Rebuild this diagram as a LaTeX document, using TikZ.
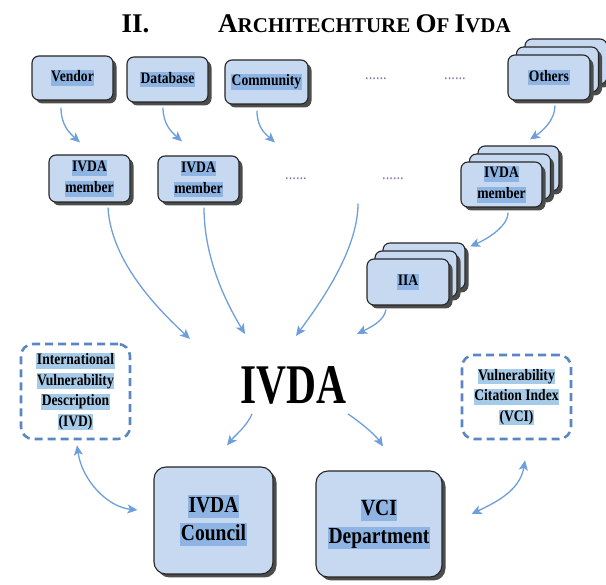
\documentclass[tikz,border=0pt]{standalone}
\usepackage{fontspec}
\usepackage{graphicx}
\setmainfont{Liberation Serif}
\usetikzlibrary{calc,shadows,arrows.meta}

\definecolor{boxfill}{HTML}{C6D9F1}
\definecolor{hlc}{HTML}{8EB4E3}
\definecolor{hld}{HTML}{A6CBE8}
\definecolor{arrowc}{HTML}{6E9EDC}
\definecolor{dashc}{HTML}{5B86C4}
\definecolor{dotc}{HTML}{8A6FA0}

% highlighted, slightly condensed text lines
\newcommand\hlstrut{\rule[-0.22em]{0pt}{0.92em}}
\newcommand\hl[1]{{\setlength\fboxsep{0.5pt}\colorbox{hlc}{\hlstrut\scalebox{0.85}[1]{#1}}}}
\newcommand\hlb[1]{{\setlength\fboxsep{0.5pt}\colorbox{hld}{\hlstrut\scalebox{0.85}[1]{#1}}}}

\tikzset{
  blockbox/.style={draw=black!85, line width=1.1pt, fill=boxfill, rounded corners=7pt,
    drop shadow={shadow xshift=3.5pt, shadow yshift=-3.5pt, fill=black!70, opacity=1},
    inner sep=0pt, align=center, font=\bfseries\fontsize{16}{21}\selectfont},
  smallbox/.style={blockbox, minimum width=81pt, minimum height=45pt},
  bigbox/.style={blockbox, rounded corners=12pt, font=\bfseries\fontsize{23}{28}\selectfont},
  dashbox/.style={draw=dashc, line width=2.6pt, dash pattern=on 8pt off 5pt, rounded corners=12pt,
    inner sep=0pt, align=center, font=\bfseries\fontsize{16}{20.5}\selectfont},
  dotsnode/.style={anchor=base, inner sep=0pt, text=dotc, font=\fontsize{17}{20}\selectfont},
  link/.style={draw=arrowc, line width=1.3pt, -{Stealth[length=10pt,width=9pt,inset=2.5pt]}},
  link2/.style={draw=arrowc, line width=1.3pt,
    {Stealth[length=10pt,width=9pt,inset=2.5pt]}-{Stealth[length=10pt,width=9pt,inset=2.5pt]}},
}

\begin{document}
\begin{tikzpicture}[x=1pt, y=-1pt]
\useasboundingbox (0,0) rectangle (606,585);

% heading
\node[anchor=base, inner sep=0pt] (secnum) at (135.5,33)
  {\bfseries\fontsize{27}{30}\selectfont II.};
\node[anchor=base west, inner sep=0pt] (title) at (218,33)
  {\bfseries\fontsize{27}{30}\selectfont A\fontsize{21}{30}\selectfont RCHITECHTURE
   \fontsize{27}{30}\selectfont O\fontsize{21}{30}\selectfont F
   \fontsize{27}{30}\selectfont I\fontsize{21}{30}\selectfont VDA};

% sources
\node[smallbox, minimum height=44pt] (vendor) at (72.5,78) {\hl{Vendor}};
\node[smallbox] (database) at (167.5,79.5) {\hl{Database}};
\node[smallbox, minimum width=83pt, minimum height=44pt] (community) at (266.5,82) {\hl{Community}};
\node[smallbox, minimum width=82pt] (others3) at (566,61.5) {};
\node[smallbox, minimum width=82pt] (others2) at (557.5,69.5) {};
\node[smallbox, minimum width=82pt] (others) at (549,77.5) {\hl{Others}};

\node[dotsnode] (dotsA) at (376,79.5) {\scalebox{0.85}[1]{......}};
\node[dotsnode] (dotsB) at (455,79.5) {\scalebox{0.85}[1]{......}};

% members
\node[smallbox, minimum height=47pt] (mem1) at (89.5,178.5) {\hl{IVDA}\\\hl{member}};
\node[smallbox, minimum height=46pt] (mem2) at (198.5,179) {\hl{IVDA}\\\hl{member}};
\node[dotsnode] (dots1) at (296,179.5) {\scalebox{0.85}[1]{......}};
\node[dotsnode] (dots2) at (393,179.5) {\scalebox{0.85}[1]{......}};
\node[smallbox] (mem3) at (518.5,168.5) {};
\node[smallbox] (mem2b) at (510,176.5) {};
\node[smallbox] (memN) at (501.5,184.5) {\hl{IVDA}\\\hl{member}};

% IIA stack
\node[smallbox, minimum width=82pt, minimum height=46pt] (iia3) at (424,266) {};
\node[smallbox, minimum width=82pt, minimum height=46pt] (iia2) at (416,274) {};
\node[smallbox, minimum width=82pt, minimum height=46pt] (iia) at (408,282) {\hl{IIA}};

% centre
\node[inner sep=0pt] (ivda) at (293,385)
  {\scalebox{0.74}[1]{\bfseries\fontsize{56}{60}\selectfont IVDA}};

\node[dashbox, minimum width=109pt, minimum height=95pt] (ivd) at (75.5,391.5)
  {\hlb{International}\\\hlb{Vulnerability}\\\hlb{Description}\\\hlb{(IVD)}};
\node[dashbox, minimum width=109pt, minimum height=84pt] (vci) at (516.5,397)
  {\hlb{Vulnerability}\\\hlb{Citation Index}\\\hlb{(VCI)}};

\node[bigbox, minimum width=119pt, minimum height=107pt] (council) at (213.5,520.5)
  {\hl{IVDA}\\\hl{Council}};
\node[bigbox, minimum width=126pt, minimum height=106pt] (vcidept) at (379,524)
  {\hl{VCI}\\\hl{Department}};

% connectors
\draw[link] ($(vendor.south)+(-11.5,7)$) .. controls +(0,18) and +(-10,-9) .. ($(mem1.north)+(-9.5,-12)$);
\draw[link] ($(database.south)+(-4.5,5)$) .. controls +(0,17) and +(-10,-9) .. ($(mem2.north)+(-16.5,-14)$);
\draw[link] ($(community.south)+(-9.5,6)$) .. controls +(0,17) and +(-10,-9) .. ($(dots1.base)+(-21,-37)$);
\draw[link] ($(others.south)+(6,5)$) .. controls +(0,15) and +(12,-8) .. ($(memN.north)+(28.5,-22)$);
\draw[link] ($(memN.south)+(6.5,5)$) .. controls +(0,15) and +(14,-6) .. ($(iia.north)+(62,-12)$);

\draw[link] ($(mem1.south)+(18.5,5)$) .. controls +(3,55) and +(-30,-28) .. ($(ivda.center)+(-103,-46)$);
\draw[link] ($(mem2.south)+(5.5,5)$) .. controls +(0,55) and +(-15,-25) .. ($(ivda.center)+(-48,-51)$);
\draw[link] ($(dots2.base)+(-35,24)$) .. controls +(0,50) and +(18,-25) .. ($(ivda.center)+(3,-49)$);
\draw[link] ($(iia.south)+(-22,4)$) .. controls +(-2,12) and +(12,-6) .. ($(ivda.center)+(64,-51)$);

\draw[link] ($(ivda.center)+(-41,29)$) .. controls +(-5,12) and +(8,-10) .. ($(council.north)+(13.5,-21)$);
\draw[link] ($(ivda.center)+(55,29)$) .. controls +(12,8) and +(-8,-12) .. ($(vcidept.north)+(4,-24)$);

\draw[link2] ($(ivd.south)+(1.5,5)$) .. controls +(5,35) and +(-30,-3) .. ($(council.west)+(-16,-10.5)$);
\draw[link2] ($(vci.south)+(8.5,20)$) .. controls +(-5,30) and +(25,-12) .. ($(vcidept.east)+(29,-10)$);
\end{tikzpicture}
\end{document}
